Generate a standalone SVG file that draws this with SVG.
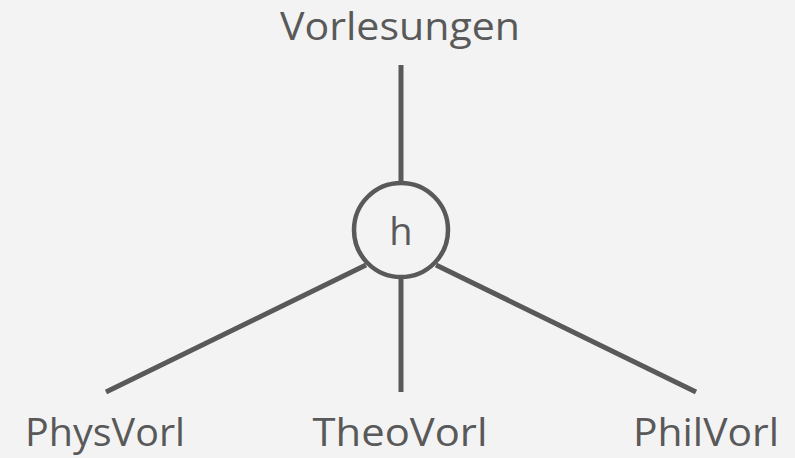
<svg xmlns="http://www.w3.org/2000/svg" width="795" height="458" viewBox="0 0 795 458">
<style>
.lbl{font-family:"Open Sans","Liberation Sans",sans-serif;font-size:38px;fill:#595959;text-anchor:middle}
.edge{stroke:#595959;stroke-width:5;fill:none}
</style>
<rect width="795" height="458" fill="#f3f3f3"/>
<g id="connectors">
<line class="edge" x1="401" y1="65" x2="401" y2="183"/>
<line class="edge" x1="401" y1="278" x2="401" y2="392"/>
<line class="edge" x1="366" y1="265" x2="106" y2="392"/>
<line class="edge" x1="436" y1="265" x2="696" y2="392"/>
</g>
<g id="node-vorlesungen"><text class="lbl" x="400" y="40" textLength="240" lengthAdjust="spacingAndGlyphs">Vorlesungen</text></g>
<g id="node-h">
<circle cx="401" cy="230" r="47" fill="#f3f3f3" stroke="#595959" stroke-width="4.5"/>
<text class="lbl" x="401" y="245">h</text>
</g>
<g id="node-physvorl"><text class="lbl" x="105" y="446" textLength="160" lengthAdjust="spacingAndGlyphs">PhysVorl</text></g>
<g id="node-theovorl"><text class="lbl" x="400" y="446" textLength="175" lengthAdjust="spacingAndGlyphs">TheoVorl</text></g>
<g id="node-philvorl"><text class="lbl" x="706" y="446" textLength="146" lengthAdjust="spacingAndGlyphs">PhilVorl</text></g>
</svg>
